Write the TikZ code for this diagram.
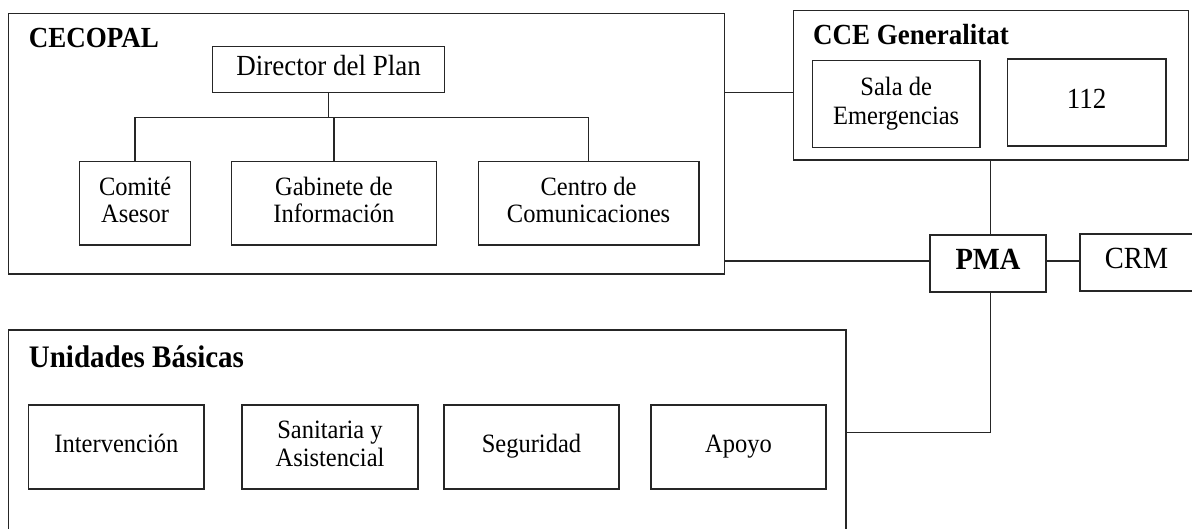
\documentclass[tikz,border=0pt]{standalone}
\usepackage{fontspec}
\usepackage{graphicx}
\setmainfont{Liberation Serif}
\newcommand{\tx}[1]{\scalebox{1}[1.08]{\begin{tabular}{@{}c@{}}#1\end{tabular}}}
\newcommand{\ts}[1]{\scalebox{1}[1.08]{#1}}
\begin{document}
\begin{tikzpicture}[x=1pt,y=-1pt,
  box/.style={draw=black!85, line width=1.4pt, inner sep=0pt, align=center, anchor=center},
  small/.style={font=\fontsize{24.5}{25.5}\selectfont},
  big/.style={font=\fontsize{27}{28}\selectfont},
  title/.style={font=\fontsize{27}{30}\selectfont\bfseries, anchor=base west, inner sep=0pt},
  conn/.style={draw=black!85, line width=1.4pt}]
\useasboundingbox (0,0) rectangle (1192,529);
\clip (0,0) rectangle (1192,529);
\fill[white] (0,0) rectangle (1192,529);

% CECOPAL
\node[box, minimum width=716pt, minimum height=260.7pt] (cecopal) at (366.5,143.7) {};
\node[title] (cecolab) at (28.7,48) {\ts{CECOPAL}};
\node[box, big, minimum width=232pt, minimum height=46pt] (director) at (328.7,69.7) {\tx{Director del Plan}};
\node[box, small, minimum width=111pt, minimum height=83.3pt] (comite) at (135.1,203.3) {\tx{Comité\\Asesor}};
\node[box, small, minimum width=204.8pt, minimum height=83.3pt] (gabinete) at (333.9,203.3) {\tx{Gabinete de\\Información}};
\node[box, small, minimum width=220.5pt, minimum height=83.3pt] (centro) at (588.6,203.3) {\tx{Centro de\\Comunicaciones}};
\coordinate (bus) at (0,117.3);
\draw[conn] (director.south) -- (director.south |- bus);
\draw[conn] (comite.north) |- (bus -| centro.north) -- (centro.north);
\draw[conn] (gabinete.north) -- (gabinete.north |- bus);

% CCE Generalitat
\node[box, minimum width=395pt, minimum height=149.3pt] (cce) at (991.2,85.3) {};
\node[title] (ccelab) at (813,45) {\ts{CCE Generalitat}};
\node[box, small, minimum width=167.5pt, minimum height=87pt] (sala) at (896.2,104.2) {\scalebox{1}[1.08]{\fontsize{24.5}{27}\selectfont\begin{tabular}{@{}c@{}}Sala de\\Emergencias\end{tabular}}};
\node[box, big, minimum width=158.5pt, minimum height=87pt] (n112) at (1086.7,102.5) {\tx{112}};

% PMA, CRM
\node[box, minimum width=116pt, minimum height=57pt, font=\fontsize{28.5}{30}\selectfont\bfseries] (pma) at (988,263.5) {\tx{PMA}};
\node[box, minimum width=113pt, minimum height=57pt, font=\fontsize{28.5}{30}\selectfont] (crm) at (1136.5,262.5) {\tx{CRM}};

% Unidades Basicas
\node[box, minimum width=837.6pt, minimum height=230pt] (unid) at (427.2,445) {};
\node[title, font=\fontsize{29}{32}\selectfont\bfseries] (unidlab) at (28.7,367.3) {\ts{Unidades Básicas}};
\node[box, small, minimum width=175.3pt, minimum height=84pt] (interv) at (116.4,447) {\raisebox{5pt}{\tx{Intervención}}};
\node[box, small, minimum width=176pt, minimum height=84pt] (sanit) at (330,447) {\tx{Sanitaria y\\Asistencial}};
\node[box, small, minimum width=175pt, minimum height=84pt] (segur) at (531.5,447) {\raisebox{5pt}{\tx{Seguridad}}};
\node[box, small, minimum width=175pt, minimum height=84pt] (apoyo) at (738.5,447) {\raisebox{2pt}{\tx{Apoyo}}};

% connectors
\coordinate (y1) at (0,92.7);
\coordinate (y2) at (0,261);
\coordinate (y3) at (0,432.7);
\coordinate (xv) at (990.6,0);
\draw[conn] (cecopal.east |- y1) -- (cce.west |- y1);
\draw[conn] (cecopal.east |- y2) -- (pma.west |- y2);
\draw[conn] (pma.east |- y2) -- (crm.west |- y2);
\draw[conn] (xv |- cce.south) -- (xv |- pma.north);
\draw[conn] (xv |- pma.south) -- (xv |- y3) -- (unid.east |- y3);
\end{tikzpicture}
\end{document}
